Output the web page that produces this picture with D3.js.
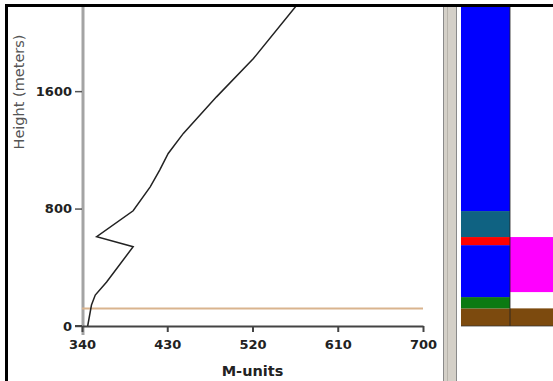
<!DOCTYPE html>
<html>
<head>
<meta charset="utf-8">
<script src="https://cdn.jsdelivr.net/npm/d3@7"></script>
<style>
  body { margin: 0; background: #fff; }
  svg { display: block; }
</style>
</head>
<body>
<div id="chart"></div>
<script>
// profile values: height (m) and M-units
var heights = [0, 143, 211, 300, 540, 608, 785, 948, 1062, 1175, 1312, 1561, 1822, 2180];
var mUnits  = [346, 350, 354, 366, 394, 355.5, 394, 412, 422, 431, 447, 482, 521, 566];

var xTicks = [340, 430, 520, 610, 700];
var yTicks = [0, 800, 1600];
var ductHeight = 120;

// layer columns (bottom, top in metres)
var layerCols   = ["a", "a", "a", "a", "a", "a", "b", "b"];
var layerBottom = [0, 120, 197, 551, 606, 783, 0, 231];
var layerTop    = [120, 197, 551, 606, 783, 2180, 120, 606];
var layerColor  = ["#7c4a0e", "#0b7a12", "#0000ff", "#ff0000", "#0f6282", "#0000ff", "#7c4a0e", "#ff00ff"];

var W = 553, H = 381;

var svg = d3.select("#chart")
  .append("svg")
    .attr("width", W)
    .attr("height", H);

var x = d3.scaleLinear().domain([340, 700]).range([82, 423]);
var y = d3.scaleLinear().domain([0, 2180]).range([326, 6]);
var col = d3.scaleBand().domain(["a", "b"]).range([461, 559]);

svg.append("clipPath").attr("id", "clip")
  .append("rect").attr("x", 0).attr("y", 6).attr("width", W).attr("height", H);

// layers on the right
var layers = svg.append("g").attr("clip-path", "url(#clip)");
layers.selectAll("rect.layer")
  .data(layerTop)
  .enter()
  .append("rect")
    .attr("class", "layer")
    .attr("x", function(d, i) { return col(layerCols[i]); })
    .attr("width", col.bandwidth())
    .attr("y", function(d) { return y(d); })
    .attr("height", function(d, i) { return y(layerBottom[i]) - y(d); })
    .style("fill", function(d, i) { return layerColor[i]; });

layers.append("line")
  .attr("x1", col("b")).attr("x2", col("b"))
  .attr("y1", y(2180)).attr("y2", y(0))
  .style("stroke", "#222").style("stroke-opacity", 0.55).style("stroke-width", 1.5);
layers.append("line")
  .attr("x1", col("a")).attr("x2", W)
  .attr("y1", y(0)).attr("y2", y(0))
  .style("stroke", "#333").style("stroke-opacity", 0.5).style("stroke-width", 1.5);

// splitter bar
svg.append("rect")
  .attr("x", 443).attr("y", 6).attr("width", 14).attr("height", H)
  .style("fill", "#d4d0c8");
[443.5, 447.5, 456.5].forEach(function(px, i) {
  svg.append("line")
    .attr("x1", px).attr("x2", px).attr("y1", 6).attr("y2", H)
    .style("stroke", i == 1 ? "#b8b4ac" : "#8a8a8a").style("stroke-width", 1);
});

// y axis line (gray)
svg.append("line")
  .attr("x1", x(340) + 1).attr("x2", x(340) + 1)
  .attr("y1", y(2180)).attr("y2", 335)
  .style("stroke", "#a4a4a4").style("stroke-width", 3);

// duct line
svg.append("line")
  .attr("x1", x(340)).attr("x2", x(700))
  .attr("y1", y(ductHeight)).attr("y2", y(ductHeight))
  .style("stroke", "#d9b48e").style("stroke-width", 2);

var tickFont = function(sel) {
  sel.style("font-family", "DejaVu Sans")
    .style("font-weight", "bold")
    .style("font-size", "13px")
    .style("fill", "#222");
};

// x axis
var xAxis = svg.append("g")
  .attr("transform", "translate(0," + y(0) + ")")
  .call(d3.axisBottom(x).tickValues(xTicks).tickFormat(d3.format("d"))
    .tickSize(6).tickSizeOuter(0).tickPadding(8));
xAxis.select(".domain").style("stroke", "#444").style("stroke-width", 2);
xAxis.selectAll(".tick line").style("stroke", "#444").style("stroke-width", 2);
xAxis.selectAll(".tick text").call(tickFont);

// y axis ticks
var yAxis = svg.append("g")
  .attr("transform", "translate(" + x(340) + ",0)")
  .call(d3.axisLeft(y).tickValues(yTicks).tickFormat(d3.format("d"))
    .tickSize(7).tickSizeOuter(0).tickPadding(3));
yAxis.select(".domain").remove();
yAxis.selectAll(".tick line").style("stroke", "#555").style("stroke-width", 1.5);
yAxis.selectAll(".tick text").call(tickFont);

// zero baseline extends to the left
svg.append("line")
  .attr("x1", 75).attr("x2", x(340))
  .attr("y1", y(0)).attr("y2", y(0))
  .style("stroke", "#444").style("stroke-width", 2);

// profile line
var profile = heights.map(function(h, i) { return {h: h, m: mUnits[i]}; });
svg.append("g").attr("clip-path", "url(#clip)")
  .append("path")
    .datum(profile)
    .attr("d", d3.line()
      .x(function(d) { return x(d.m); })
      .y(function(d) { return y(d.h); }))
    .style("fill", "none")
    .style("stroke", "#222")
    .style("stroke-width", 1.5);

// axis titles
svg.append("text")
  .attr("x", x(520))
  .attr("y", 376)
  .attr("text-anchor", "middle")
  .style("font-family", "DejaVu Sans")
  .style("font-weight", "bold")
  .style("font-size", "14.5px")
  .style("fill", "#222")
  .text("M-units");

svg.append("text")
  .attr("transform", "translate(24,92) rotate(-90)")
  .attr("text-anchor", "middle")
  .style("font-family", "DejaVu Sans")
  .style("font-size", "14.5px")
  .style("fill", "#555")
  .text("Height (meters)");

// frame (top and left)
svg.append("path")
  .attr("d", "M6.5," + H + "V5.5H" + W)
  .style("fill", "none")
  .style("stroke", "#000")
  .style("stroke-width", 3);
</script>
</body>
</html>
